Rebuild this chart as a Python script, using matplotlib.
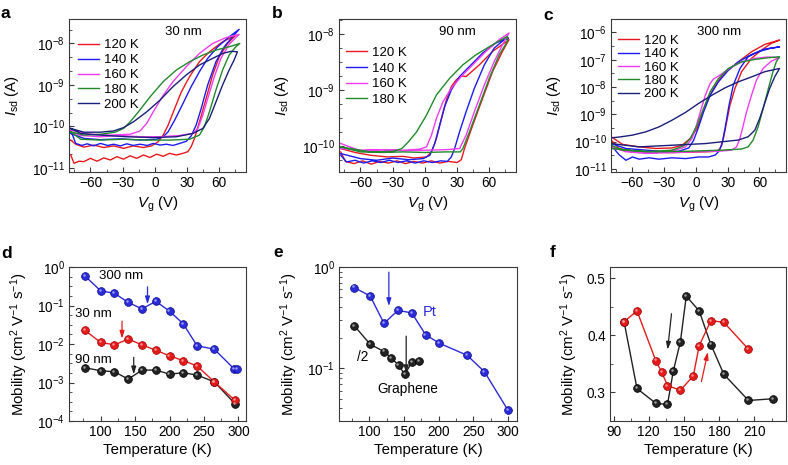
"""Transfer curves and mobility vs temperature, six panels."""

import matplotlib

matplotlib.use("Agg")
import matplotlib.pyplot as plt
import matplotlib.ticker as mticker
from matplotlib.transforms import ScaledTranslation
import numpy as np

plt.rcParams["font.family"] = ["Liberation Sans", "DejaVu Sans"]
plt.rcParams["mathtext.fontset"] = "custom"
plt.rcParams["mathtext.rm"] = "Liberation Sans"
plt.rcParams["mathtext.it"] = "Liberation Sans:italic"
plt.rcParams["mathtext.bf"] = "Liberation Sans:bold"

RED = "#e8191e"
BLUE = "#1c1cf0"
PINK = "#f03cf0"
GREEN = "#21892b"
NAVY = "#1b1f7a"
BALL_BLUE = "#2b2bd8"
BALL_RED = "#e31b1b"
BALL_BLACK = "#222222"

TEMPS_ABC = ["120 K", "140 K", "160 K", "180 K", "200 K"]

# ---- panel a (30 nm): (Vg [V], log10 Isd [A]), forward sweep then back ----
A_120K = [(-78.4, -10.69), (-75.3, -10.89), (-70.7, -10.84), (-66.1, -10.85), (-60, -10.77),
          (-53.8, -10.84), (-47.6, -10.76), (-41.5, -10.81), (-35.3, -10.73), (-29.2, -10.79),
          (-23, -10.71), (-16.9, -10.77), (-10.7, -10.69), (-4.5, -10.75), (1.6, -10.67),
          (7.8, -10.72), (13.9, -10.65), (20.1, -10.69), (26.2, -10.65), (30.8, -10.61),
          (33.9, -10.49), (37, -10.29), (41.6, -9.89), (47.8, -9.33), (53.9, -8.76),
          (60.1, -8.32), (67.8, -8.0), (75.5, -7.8),
          (63.2, -7.96), (50.9, -8.2), (41.6, -8.44), (32.4, -8.8), (24.7, -9.17),
          (18.5, -9.57), (12.4, -9.97), (7.8, -10.21), (3.1, -10.37), (-3, -10.47),
          (-10.7, -10.51), (-19.9, -10.47), (-29.2, -10.53), (-38.4, -10.47), (-47.6, -10.51),
          (-56.9, -10.45), (-66.1, -10.5), (-73.8, -10.43), (-78.4, -10.33)]
A_140K = [(-78.4, -10.09), (-73.8, -10.41), (-68, -10.46), (-63, -10.42), (-57, -10.47),
          (-50.7, -10.41), (-44, -10.46), (-38.4, -10.43), (-32, -10.47), (-26.1, -10.42),
          (-20, -10.46), (-13.8, -10.43), (-7, -10.46), (-1.5, -10.41), (5, -10.45),
          (10.8, -10.43), (17, -10.46), (23.2, -10.41), (29.3, -10.36), (33.9, -10.23),
          (38.5, -9.97), (43.2, -9.57), (49.3, -9.0), (57, -8.44), (64.7, -8.08),
          (72.4, -7.84), (78.6, -7.66),
          (69.3, -7.84), (58.6, -8.08), (49.3, -8.36), (41.6, -8.68), (33.9, -9.04),
          (26.2, -9.45), (18.5, -9.85), (12.4, -10.13), (7.8, -10.25), (1.6, -10.31),
          (-13.8, -10.33), (-32.2, -10.3), (-50.7, -10.32), (-66.1, -10.29), (-78.4, -10.17)]
A_160K = [(-78.4, -10.13), (-69.2, -10.22), (-50.7, -10.25), (-32.2, -10.22), (-13.8, -10.25),
          (4.7, -10.25), (23.2, -10.22), (35.5, -10.17), (40.1, -10.05), (44.7, -9.73),
          (49.3, -9.33), (55.5, -8.8), (61.6, -8.36), (69.3, -8.02), (78.6, -7.78),
          (66.2, -7.86), (53.9, -8.0), (41.6, -8.24), (29.3, -8.56), (17, -8.92),
          (7.8, -9.25), (-1.5, -9.65), (-7.6, -9.93), (-13.8, -10.11), (-23, -10.19),
          (-41.5, -10.21), (-60, -10.19), (-78.4, -10.09)]
A_180K = [(-78.4, -10.13), (-69.2, -10.31), (-50.7, -10.33), (-29.2, -10.31), (-7.6, -10.33),
          (13.9, -10.33), (32.4, -10.31), (41.6, -10.21), (46.2, -10.01), (50.9, -9.65),
          (57, -9.12), (63.2, -8.64), (69.3, -8.28), (75.5, -8.08), (79.2, -8.0),
          (69.3, -8.08), (57, -8.16), (44.7, -8.28), (32.4, -8.44), (20.1, -8.64),
          (7.8, -8.92), (-4.5, -9.29), (-15.3, -9.65), (-23, -9.89), (-29.2, -10.05),
          (-36.9, -10.14), (-50.7, -10.19), (-66.1, -10.21), (-78.4, -10.13)]
A_200K = [(-78.4, -10.05), (-69.2, -10.17), (-50.7, -10.21), (-26.1, -10.25), (-1.5, -10.27),
          (20.1, -10.25), (35.5, -10.17), (44.7, -10.05), (50.9, -9.81), (57, -9.41),
          (63.2, -9.0), (69.3, -8.64), (73.9, -8.4), (77, -8.2),
          (70.9, -8.19), (63.2, -8.24), (53.9, -8.36), (41.6, -8.52), (29.3, -8.76),
          (17, -9.04), (4.7, -9.37), (-7.6, -9.65), (-19.9, -9.89), (-29.2, -10.03),
          (-38.4, -10.11), (-50.7, -10.14), (-66.1, -10.14), (-78.4, -10.05)]

# ---- panel b (90 nm) ----
B_120K = [(-78.4, -10.11), (-74, -10.28), (-66, -10.32), (-58, -10.27), (-50, -10.33),
          (-42, -10.28), (-34, -10.31), (-26, -10.27), (-18, -10.32), (-10, -10.28),
          (-2, -10.31), (6, -10.27), (14, -10.31), (22, -10.28), (30, -10.3), (34, -10.25),
          (37, -10.05), (44.7, -9.63), (53.9, -9.15), (63.2, -8.67), (72.4, -8.31), (78.5, -8.1),
          (63.2, -8.31), (50.9, -8.55), (38.5, -8.76), (33.9, -8.75), (29.3, -8.82),
          (24.7, -8.94), (20.1, -9.18), (15.5, -9.51), (10.8, -9.87), (6.2, -10.11),
          (1.6, -10.2), (-10, -10.22), (-20, -10.19), (-35, -10.2), (-50.7, -10.17),
          (-65, -10.12), (-78.4, -10.05)]
B_140K = [(-78.4, -10.17), (-73, -10.29), (-65, -10.26), (-57, -10.31), (-49, -10.27),
          (-41, -10.3), (-33, -10.26), (-25, -10.3), (-17, -10.27), (-9, -10.31), (-1, -10.27),
          (7, -10.3), (15, -10.27), (21, -10.28), (24.7, -10.2), (27.8, -10.05), (32.4, -9.75),
          (38.5, -9.39), (46.2, -8.97), (55.5, -8.55), (64.7, -8.25), (74, -8.1), (77.9, -8.07),
          (66.2, -8.16), (53.9, -8.34), (41.6, -8.58), (32.4, -8.76), (24.7, -9.0),
          (18.5, -9.3), (13.9, -9.63), (9.3, -9.96), (4.7, -10.17), (-1.5, -10.23),
          (-15, -10.25), (-30, -10.22), (-45, -10.26), (-60, -10.23), (-78.4, -10.14)]
B_160K = [(-78.4, -10.05), (-60, -10.08), (-40, -10.07), (-20, -10.09), (0, -10.08),
          (20, -10.07), (32.4, -10.05), (38.5, -9.81), (46.2, -9.39), (55.5, -8.91),
          (64.7, -8.49), (72.4, -8.19), (78.5, -7.98),
          (69.3, -8.1), (57, -8.31), (44.7, -8.55), (33.9, -8.76), (24.7, -8.97), (17, -9.21),
          (10.8, -9.51), (6.2, -9.81), (1.6, -10.02), (-4.5, -10.06), (-20, -10.08),
          (-40, -10.07), (-60, -10.09), (-78.4, -9.96)]
B_180K = [(-78.4, -10.02), (-60, -10.11), (-40, -10.12), (-20, -10.11), (0, -10.12),
          (20, -10.11), (33, -10.11), (35.5, -10.05), (41.6, -9.75), (50.9, -9.27),
          (60.1, -8.79), (69.3, -8.37), (77, -8.13),
          (77, -8.04), (63.2, -8.19), (47.8, -8.37), (35.5, -8.55), (23.2, -8.79),
          (10.8, -9.09), (1.6, -9.45), (-7.6, -9.75), (-15.3, -9.93), (-21.5, -10.05),
          (-29.2, -10.1), (-50.7, -10.11), (-78.4, -10.02)]

# ---- panel c (300 nm) ----
C_120K = [(-79.9, -9.94), (-72.1, -10.25), (-53.5, -10.37), (-22.3, -10.4), (8.9, -10.37),
          (19.8, -10.35), (22.9, -10.25), (26, -9.88), (29.1, -9.27), (32.2, -8.66),
          (36.9, -8.05), (43.1, -7.44), (52.5, -6.95), (61.8, -6.65), (71.2, -6.4), (78.9, -6.28),
          (64.9, -6.44), (52.5, -6.71), (40, -7.08), (30.7, -7.38), (22.9, -7.69), (16.6, -8.05),
          (10.4, -8.54), (5.7, -9.03), (1.1, -9.52), (-5.2, -9.88), (-13, -10.13),
          (-22.3, -10.23), (-37.9, -10.25), (-53.5, -10.19), (-69, -10.1), (-79.9, -9.82)]
C_140K = [(-79.9, -10.13), (-72.1, -10.49), (-65.9, -10.68), (-59.7, -10.56), (-53.5, -10.64),
          (-44.1, -10.59), (-34.8, -10.64), (-22.3, -10.59), (-9.8, -10.62), (2.6, -10.56),
          (12, -10.56), (18.2, -10.49), (21.3, -10.37), (24.4, -10.13), (27.5, -9.52),
          (31.3, -8.66), (35.3, -7.93), (41.6, -7.32), (49.3, -6.89), (58.7, -6.71),
          (69.6, -6.59), (78.9, -6.53),
          (64.9, -6.61), (52.5, -6.81), (40, -7.08), (30.7, -7.38), (21.3, -7.81), (13.5, -8.3),
          (7.3, -8.91), (2.6, -9.46), (-2.1, -9.95), (-6.7, -10.23), (-16.1, -10.35),
          (-28.5, -10.37), (-47.2, -10.31), (-65.9, -10.25), (-79.9, -10.07)]
C_160K = [(-79.9, -10.19), (-65.9, -10.37), (-47.2, -10.43), (-22.3, -10.4), (2.6, -10.37),
          (21.3, -10.35), (33.8, -10.31), (38.4, -10.19), (41.6, -9.88), (44.7, -9.4),
          (47.8, -8.91), (52.5, -8.3), (57.1, -7.75), (63.4, -7.32), (71.2, -7.05), (78.9, -6.93),
          (68, -6.9), (55.6, -6.95), (43.1, -7.08), (32.2, -7.3), (22.9, -7.56), (16.6, -7.71),
          (13.5, -7.87), (8.9, -8.3), (4.2, -8.91), (0.1, -9.46), (-3.6, -9.88), (-9.8, -10.19),
          (-19.2, -10.31), (-37.9, -10.4), (-59.7, -10.37), (-79.9, -10.23)]
C_180K = [(-79.9, -10.13), (-69, -10.31), (-37.9, -10.37), (-6.7, -10.35), (24.4, -10.31),
          (43.1, -10.27), (49.3, -10.19), (54, -9.94), (58.7, -9.46), (63.4, -8.79),
          (68, -8.11), (72.7, -7.44), (75.8, -7.08), (78.9, -6.89),
          (68, -6.93), (55.6, -6.99), (43.1, -7.08), (30.7, -7.32), (21.3, -7.69), (13.5, -8.17),
          (7.3, -8.78), (1.1, -9.4), (-5.2, -9.88), (-11.4, -10.15), (-22.3, -10.31),
          (-47.2, -10.37), (-79.9, -10.25)]
C_200K = [(-79.9, -10.07), (-53.5, -10.19), (-22.3, -10.13), (8.9, -10.07), (40, -9.94),
          (49.3, -9.82), (55.6, -9.58), (60.2, -9.15), (64.9, -8.6), (69.6, -8.05),
          (74.3, -7.63), (78.9, -7.32),
          (64.9, -7.44), (52.5, -7.63), (40, -7.81), (27.5, -8.03), (15.1, -8.3), (2.6, -8.6),
          (-9.8, -8.93), (-22.3, -9.21), (-34.8, -9.46), (-47.2, -9.64), (-59.7, -9.76),
          (-72.1, -9.83), (-79.9, -9.86)]

# ---- panel d: mobility vs T for three thicknesses ----
D_T_300 = [77, 100, 120, 140, 160, 180, 200, 220, 240, 265, 294, 298]
D_MU_300 = [0.59, 0.24, 0.208, 0.12, 0.082, 0.128, 0.0714, 0.0332, 0.00897, 0.00733, 0.00223, 0.00223]
D_T_30 = [77, 100, 120, 140, 160, 180, 200, 220, 240, 265, 295]
D_MU_30 = [0.0227, 0.011, 0.0095, 0.0134, 0.0095, 0.0069, 0.0049, 0.0037, 0.00268, 0.00104, 0.000343]
D_T_90 = [77, 100, 120, 140, 160, 180, 200, 220, 240, 265, 295]
D_MU_90 = [0.00242, 0.00202, 0.0019, 0.00122, 0.0021, 0.0021, 0.00165, 0.00179, 0.00156, 0.00104, 0.00028]

# ---- panel e: Pt and graphene electrodes ----
E_T_PT = [78, 101, 121, 141, 161, 181, 201, 241, 266, 300]
E_MU_PT = [0.626, 0.517, 0.277, 0.372, 0.352, 0.214, 0.176, 0.134, 0.092, 0.0383]
E_T_GR = [78, 101, 121, 131, 142, 151, 161, 171]
E_MU_GR = [0.263, 0.172, 0.146, 0.127, 0.107, 0.0865, 0.114, 0.118]

# ---- panel f: cooling (black) and warming (red) ----
F_T_BLACK = [99, 110, 126, 136, 141, 147, 152, 163, 173, 184, 205, 226]
F_MU_BLACK = [0.424, 0.307, 0.281, 0.279, 0.338, 0.389, 0.469, 0.443, 0.384, 0.332, 0.286, 0.289]
F_T_RED = [99, 110, 126, 131, 136, 147, 158, 163, 173, 184, 205]
F_MU_RED = [0.424, 0.443, 0.356, 0.336, 0.312, 0.304, 0.329, 0.382, 0.426, 0.423, 0.376]

W, H = 788, 465
fig = plt.figure(figsize=(W / 100, H / 100), dpi=100)


def rect(left, top, right, bottom):
    return [left / W, 1 - bottom / H, (right - left) / W, (bottom - top) / H]


def style(ax):
    for s in ax.spines.values():
        s.set_color("#3a3a3a")
        s.set_linewidth(0.8)
    ax.tick_params(which="both", direction="in", top=False, right=False,
                   color="#3a3a3a", labelsize=9.8, pad=3)
    ax.tick_params(which="major", length=3.5, width=0.8)
    ax.tick_params(which="minor", length=2, width=0.6)


def loop_panel(ax, loops, ylim, yminor_step, note, note_xy, leg_anchor, leg_space):
    for pts, color, label in loops:
        pts = np.array(pts)
        ax.plot(pts[:, 0], 10 ** pts[:, 1], color=color, lw=1.0, label=label)
    ax.set_yscale("log")
    ax.set_xlim(-80, 85)
    ax.set_ylim(10 ** ylim[0], 10 ** ylim[1])
    ax.xaxis.set_major_locator(mticker.FixedLocator([-60, -30, 0, 30, 60]))
    ax.xaxis.set_minor_locator(mticker.MultipleLocator(15))
    decades = np.arange(np.floor(ylim[0]), np.ceil(ylim[1]) + 1)
    ax.yaxis.set_major_locator(mticker.FixedLocator(10 ** decades))
    minors = np.arange(np.floor(ylim[0]), np.ceil(ylim[1]), yminor_step)
    ax.yaxis.set_minor_locator(mticker.FixedLocator(10 ** minors))
    ax.yaxis.set_minor_formatter(mticker.NullFormatter())
    ax.set_xlabel(r"$V_\mathrm{g}$ (V)", fontsize=10.8, labelpad=3)
    ax.set_ylabel(r"$I_\mathrm{sd}$ (A)", fontsize=10.8, labelpad=8)
    ax.text(*note_xy, note, transform=ax.transAxes, fontsize=9.5, ha="center", va="center")
    ax.legend(loc="upper left", bbox_to_anchor=leg_anchor, frameon=False, fontsize=9.5,
              handlelength=1.6, handletextpad=0.35, labelspacing=leg_space,
              borderpad=0, borderaxespad=0)
    style(ax)


def balls(ax, x, y, color, edge, hi):
    ax.plot(x, y, "-", color=color, lw=1.0, zorder=2)
    ax.plot(x, y, "o", ms=5.6, mfc=color, mec=edge, mew=0.5, zorder=3)
    shift = ax.transData + ScaledTranslation(-0.8 / 72, 0.8 / 72, fig.dpi_scale_trans)
    ax.plot(x, y, "o", ms=1.8, mfc=hi, mec="none", alpha=0.8, zorder=4, transform=shift)


def arrow(ax, tail, tip, color):
    ax.annotate("", xy=tip, xytext=tail,
                arrowprops=dict(arrowstyle="-|>,head_length=0.45,head_width=0.14",
                                color=color, lw=0.9, shrinkA=0, shrinkB=0))


mu_label = r"Mobility (cm$^2$ V$^{-1}$ s$^{-1}$)"

# a
ax = fig.add_axes(rect(69, 19, 246, 172))
loop_panel(ax, list(zip([A_120K, A_140K, A_160K, A_180K, A_200K],
                        [RED, BLUE, PINK, GREEN, NAVY], TEMPS_ABC)),
           (-11.1, -7.41), 1 / 3, "30 nm", (0.645, 0.915), (0.05, 0.868), 0.2)

# b
ax = fig.add_axes(rect(339, 19, 516, 172))
loop_panel(ax, list(zip([B_120K, B_140K, B_160K, B_180K],
                        [RED, BLUE, PINK, GREEN], TEMPS_ABC)),
           (-10.47, -7.73), 0.25, "90 nm", (0.666, 0.913), (0.04, 0.818), 0.25)

# c
ax = fig.add_axes(rect(611, 19, 786, 172))
loop_panel(ax, list(zip([C_120K, C_140K, C_160K, C_180K, C_200K],
                        [RED, BLUE, PINK, GREEN, NAVY], TEMPS_ABC)),
           (-11.11, -5.51), 0.5, "300 nm", (0.615, 0.913), (0.04, 0.897), 0.08)

# d
ax = fig.add_axes(rect(69, 267, 246, 421))
balls(ax, D_T_90, D_MU_90, BALL_BLACK, "#000000", "#bbbbbb")
balls(ax, D_T_30, D_MU_30, BALL_RED, "#a00000", "#ffb0b0")
balls(ax, D_T_300, D_MU_300, BALL_BLUE, "#0a0a90", "#b8b8ff")
ax.set_yscale("log")
ax.set_xlim(54, 311)
ax.set_ylim(1e-4, 1)
ax.xaxis.set_major_locator(mticker.MultipleLocator(50))
ax.xaxis.set_minor_locator(mticker.MultipleLocator(25))
ax.yaxis.set_major_locator(mticker.FixedLocator(10.0 ** np.arange(-4, 1)))
ax.yaxis.set_minor_locator(mticker.FixedLocator(10 ** np.arange(-4, 0, 0.25)))
ax.yaxis.set_minor_formatter(mticker.NullFormatter())
arrow(ax, (168, 0.305), (168, 0.107), BALL_BLUE)
arrow(ax, (131, 0.039), (131, 0.0137), BALL_RED)
arrow(ax, (148, 0.0045), (148, 0.00162), BALL_BLACK)
ax.text(129, 0.57, "300 nm", fontsize=9.5, ha="center", va="center")
ax.text(90, 0.059, "30 nm", fontsize=9.5, ha="center", va="center")
ax.text(90, 0.0039, "90 nm", fontsize=9.5, ha="center", va="center")
ax.set_xlabel("Temperature (K)", fontsize=10.8, labelpad=3)
ax.set_ylabel(mu_label, fontsize=10.8, labelpad=5)
style(ax)

# e
ax = fig.add_axes(rect(339, 267, 517, 421))
balls(ax, E_T_GR, E_MU_GR, BALL_BLACK, "#000000", "#bbbbbb")
balls(ax, E_T_PT, E_MU_PT, BALL_BLUE, "#0a0a90", "#b8b8ff")
ax.set_yscale("log")
ax.set_xlim(56, 313)
ax.set_ylim(0.03, 1.0)
ax.xaxis.set_major_locator(mticker.MultipleLocator(50))
ax.xaxis.set_minor_locator(mticker.MultipleLocator(25))
ax.yaxis.set_major_locator(mticker.FixedLocator([0.1, 1.0]))
ax.yaxis.set_minor_locator(mticker.LogLocator(subs=np.arange(2, 10)))
ax.yaxis.set_minor_formatter(mticker.NullFormatter())
arrow(ax, (128, 0.89), (128, 0.41), BALL_BLUE)
arrow(ax, (153, 0.207), (153, 0.089), BALL_BLACK)
ax.text(187, 0.363, "Pt", fontsize=10.5, color=BALL_BLUE, ha="center", va="center")
ax.text(90, 0.13, "/2", fontsize=9.8, ha="center", va="center")
ax.text(156, 0.062, "Graphene", fontsize=9.8, ha="center", va="center")
ax.set_xlabel("Temperature (K)", fontsize=10.8, labelpad=3)
ax.set_ylabel(mu_label, fontsize=10.8, labelpad=5)
style(ax)

# f
ax = fig.add_axes(rect(610, 267, 786, 421))
balls(ax, F_T_BLACK, F_MU_BLACK, BALL_BLACK, "#000000", "#bbbbbb")
balls(ax, F_T_RED, F_MU_RED, BALL_RED, "#a00000", "#ffb0b0")
ax.set_xlim(87, 237)
ax.set_ylim(0.25, 0.52)
ax.xaxis.set_major_locator(mticker.MultipleLocator(30))
ax.xaxis.set_minor_locator(mticker.MultipleLocator(15))
ax.yaxis.set_major_locator(mticker.MultipleLocator(0.1))
ax.yaxis.set_minor_locator(mticker.MultipleLocator(0.05))
ax.yaxis.set_major_formatter(mticker.FormatStrFormatter("%.1f"))
arrow(ax, (139.4, 0.438), (136.1, 0.375), BALL_BLACK)
arrow(ax, (164.9, 0.319), (170.4, 0.371), BALL_RED)
ax.set_xlabel("Temperature (K)", fontsize=10.8, labelpad=3)
ax.set_ylabel(mu_label, fontsize=10.8, labelpad=5)
style(ax)

for letter, x, y in [("a", 5, 13), ("b", 277, 13), ("c", 548, 15),
                     ("d", 7, 253), ("e", 278, 252), ("f", 553, 252)]:
    fig.text(x / W, 1 - y / H, letter, fontsize=12.5, fontweight="bold",
             ha="center", va="center")

fig.savefig("out.png", dpi=100)
plt.close(fig)
